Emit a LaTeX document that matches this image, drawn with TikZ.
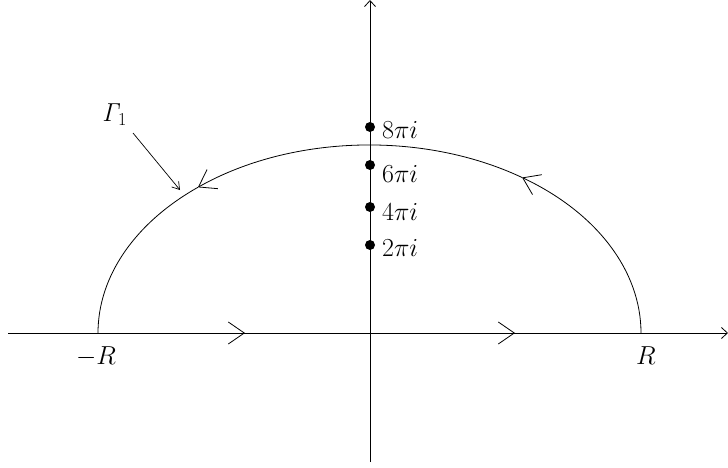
\RequirePackage{fix-cm}
\documentclass[tikz,border=0pt]{standalone}
\usetikzlibrary{arrows.meta}
\begin{document}
\begin{tikzpicture}[x=1pt,y=1pt,
  bigtip/.style={-{Straight Barb[length=16pt,width=22pt,line width=0.8pt]}},
  axistip/.style={-{Straight Barb[length=6pt,width=11pt,line width=0.8pt]}},
  curve/.style={line width=0.8pt},
  dotm/.style={circle,fill=black,inner sep=0pt,minimum size=10pt},
  lbl/.style={inner sep=0pt,font=\fontsize{26}{30}\selectfont}]
\useasboundingbox (0,0) rectangle (728,467);
% axes
\coordinate (xl) at (8,134);
\coordinate (xr) at (728,134);
\coordinate (yb) at (370,5);
\coordinate (yt) at (370,467);
\draw[curve,axistip] (xl) -- (xr);
\draw[curve,axistip] (yb) -- (yt);
% mid arrows on the axis
\coordinate (a1) at (245,134);
\coordinate (a2) at (515,134);
\draw[curve,bigtip] (xl) -- (a1);
\draw[curve,bigtip] (a1) -- (a2);
% semi-ellipse
\coordinate (Rp) at (641,134);
\draw[curve,bigtip] (Rp) arc[start angle=0,end angle=55.8,x radius=271.5,y radius=188] coordinate (c1);
\draw[curve,bigtip] (c1) arc[start angle=55.8,end angle=129.2,x radius=271.5,y radius=188] coordinate (c2);
\draw[curve] (c2) arc[start angle=129.2,end angle=180,x radius=271.5,y radius=188] coordinate (Rm);
% dots
\node[dotm] (d8) at (370,340) {};
\node[dotm] (d6) at (370,302) {};
\node[dotm] (d4) at (370,260) {};
\node[dotm] (d2) at (370,222) {};
\node[lbl,anchor=base west] (l8) at (382,329) {$8\pi i$};
\node[lbl,anchor=base west] (l6) at (382,285) {$6\pi i$};
\node[lbl,anchor=base west] (l4) at (382,247) {$4\pi i$};
\node[lbl,anchor=base west] (l2) at (382,211) {$2\pi i$};
% labels
\node[lbl,anchor=base] (mR) at (96,103) {$-R$};
\node[lbl,anchor=base] (pR) at (646,103) {$R$};
\node[lbl,anchor=base west] (G) at (102,345) {$\mathit{\Gamma}_1$};
\coordinate (gt) at (180,277);
\draw[line width=0.7pt,-{Straight Barb[length=7pt,width=9pt,line width=0.7pt]}] (133,334) -- (gt);
\end{tikzpicture}
\end{document}
